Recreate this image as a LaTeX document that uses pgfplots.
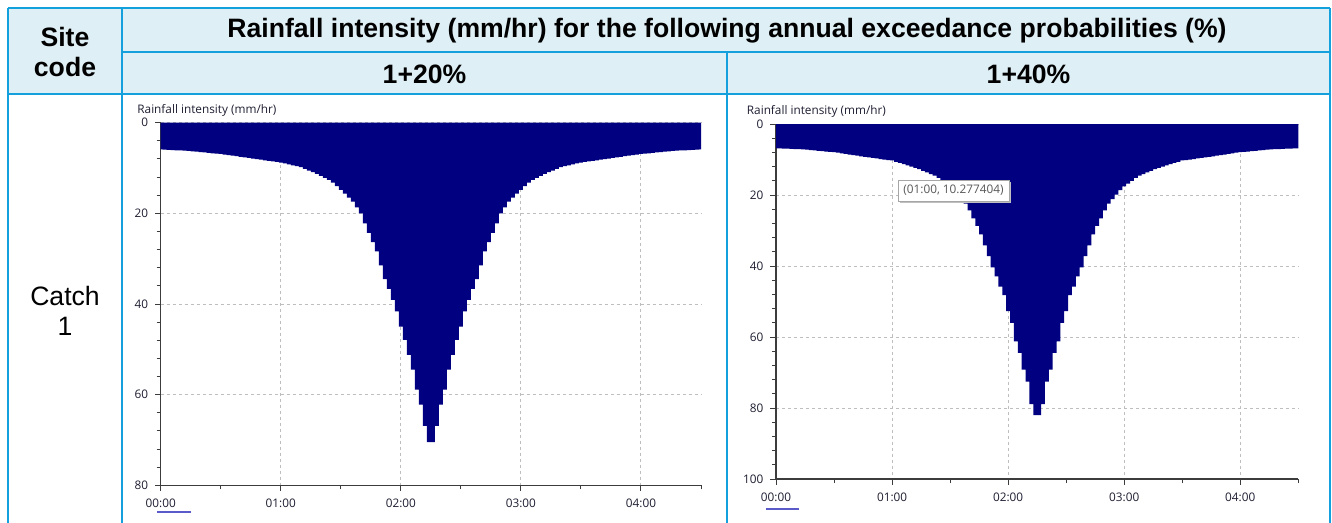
\documentclass[border=0pt]{standalone}
\usepackage{pgfplots}
\pgfplotsset{compat=1.18}
\usepackage{fontspec}
\setmainfont{Liberation Sans}
\newfontfamily\chartfont{Open Sans}
\definecolor{hdrfill}{RGB}{222,239,245}
\definecolor{tblline}{RGB}{20,160,220}
\definecolor{navyfill}{RGB}{0,0,128}
\definecolor{axisgray}{RGB}{60,60,60}
\definecolor{gridgray}{RGB}{190,190,190}
\definecolor{ticktext}{RGB}{30,30,50}
\definecolor{legblue}{RGB}{90,90,200}
\newcommand{\chartsize}{\chartfont\fontsize{5.9}{7}\selectfont}
\pgfplotsset{hyeto/.style={
  scale only axis, anchor=south west,
  axis x line*=bottom, axis y line*=left,
  axis line style={draw=axisgray, line width=0.6pt, -},
  y dir=reverse, xmin=0, xmax=270, ymin=0,
  xtick={0,60,120,180,240}, xticklabels={00:00,01:00,02:00,03:00,04:00},
  minor xtick={30,90,150,210,270},
  minor y tick num=4,
  tick align=outside, major tick length=2.8pt, minor tick length=2pt,
  every tick/.style={draw=axisgray, line width=0.5pt},
  xmajorgrids, ymajorgrids,
  major grid style={draw=gridgray, dash pattern=on 1.5pt off 1.5pt, line width=0.5pt},
  /pgf/number format/assume math mode=true,
  ticklabel style={font=\chartsize, text=ticktext},
  xticklabel style={yshift=-0.5pt},
}}
\begin{document}
\begin{tikzpicture}
\begin{scope}[x=0.5pt,y=-0.5pt]
\useasboundingbox (0,0) rectangle (1332,523);
% table header
\fill[hdrfill] (8,8) rectangle (1330,94);
\draw[tblline, line width=1.2pt] (8,8) -- (1330,8);
\draw[tblline, line width=1.2pt] (122,52) -- (1330,52);
\draw[tblline, line width=1.2pt] (8,94) -- (1330,94);
\draw[tblline, line width=1.2pt] (8,8) -- (8,523);
\draw[tblline, line width=1.2pt] (122,8) -- (122,523);
\draw[tblline, line width=1.2pt] (727,52) -- (727,523);
\draw[tblline, line width=1.2pt] (1330,8) -- (1330,523);
\begin{scope}[font=\fontsize{13.3}{15}\selectfont\bfseries]
\node at (65,37) {Site};
\node at (65,67) {code};
\node at (727,31) {Rainfall intensity (mm/hr) for the following annual exceedance probabilities (\%)};
\node at (424.5,74) {1+20\%};
\node at (1028.5,74) {1+40\%};
\end{scope}
\node[font=\fontsize{13.3}{15}\selectfont] at (65,296) {Catch};
\node[font=\fontsize{13.3}{15}\selectfont] at (65,326) {1};
\end{scope}

% left chart
\begin{axis}[hyeto, at={(80.35pt,-242.65pt)}, width=270.15pt, height=181.3pt, ymax=80, ytick={0,20,40,60,80}]
\addplot[fill=navyfill, draw=none, const plot mark left] table {
x y
0 5.90
1 5.95
3 5.99
5 6.04
7 6.08
9 6.13
11 6.18
13 6.24
15 6.32
17 6.40
19 6.49
21 6.57
23 6.65
25 6.74
27 6.82
29 6.90
31 7.03
33 7.15
35 7.28
37 7.40
39 7.53
41 7.65
43 7.78
45 7.90
47 8.03
49 8.16
51 8.29
53 8.41
55 8.54
57 8.67
59 8.80
61 9.00
63 9.20
65 9.40
67 9.60
69 9.80
71 10.18
73 10.55
75 10.93
77 11.30
79 11.73
81 12.16
83 12.59
85 13.20
87 14.00
89 14.80
91 15.64
93 16.52
95 17.40
97 18.70
99 20.00
101 22.20
103 24.32
105 26.36
107 28.40
109 31.47
111 34.50
113 36.65
115 39.10
117 41.60
119 45.00
121 47.93
123 51.25
125 54.50
127 58.90
129 62.20
131 66.87
133 70.50
137 66.87
139 62.20
141 58.90
143 54.50
145 51.25
147 47.93
149 45.00
151 41.60
153 39.10
155 36.65
157 34.50
159 31.47
161 28.40
163 26.36
165 24.32
167 22.20
169 20.00
171 18.70
173 17.40
175 16.52
177 15.64
179 14.80
181 14.00
183 13.20
185 12.59
187 12.16
189 11.73
191 11.30
193 10.93
195 10.55
197 10.18
199 9.80
201 9.60
203 9.40
205 9.20
207 9.00
209 8.80
211 8.67
213 8.54
215 8.41
217 8.29
219 8.16
221 8.03
223 7.90
225 7.78
227 7.65
229 7.53
231 7.40
233 7.28
235 7.15
237 7.03
239 6.90
241 6.82
243 6.74
245 6.65
247 6.57
249 6.49
251 6.40
253 6.32
255 6.24
257 6.18
259 6.13
261 6.08
263 6.04
265 5.99
267 5.95
269 5.90
270 5.90
} \closedcycle;
\end{axis}

% right chart
\begin{axis}[hyeto, at={(388pt,-239.5pt)}, width=261.15pt, height=177.5pt, ymax=100, ytick={0,20,40,60,80,100}]
\addplot[fill=navyfill, draw=none, const plot mark left] table {
x y
0 6.86
1 6.89
3 6.93
5 6.97
7 7.01
9 7.06
11 7.10
13 7.14
15 7.24
17 7.34
19 7.44
21 7.54
23 7.64
25 7.75
27 7.85
29 7.95
31 8.09
33 8.26
35 8.43
37 8.60
39 8.77
41 8.94
43 9.11
45 9.27
47 9.42
49 9.57
51 9.71
53 9.86
55 10.01
57 10.15
59 10.28
61 10.64
63 10.98
65 11.32
67 11.65
69 11.99
71 12.33
73 12.73
75 13.19
77 13.65
79 14.11
81 14.57
83 15.20
85 16.00
87 16.80
89 17.60
91 18.63
93 19.90
95 21.16
97 22.42
99 24.36
101 26.60
103 28.71
105 31.08
107 34.20
109 37.25
111 40.40
113 42.90
115 45.80
117 48.20
119 52.70
121 56.00
123 61.20
125 64.50
127 69.20
129 72.60
131 78.90
133 82.00
137 78.90
139 72.60
141 69.20
143 64.50
145 61.20
147 56.00
149 52.70
151 48.20
153 45.80
155 42.90
157 40.40
159 37.25
161 34.20
163 31.08
165 28.71
167 26.60
169 24.36
171 22.42
173 21.16
175 19.90
177 18.63
179 17.60
181 16.80
183 16.00
185 15.20
187 14.57
189 14.11
191 13.65
193 13.19
195 12.73
197 12.33
199 11.99
201 11.65
203 11.32
205 10.98
207 10.64
209 10.28
211 10.15
213 10.01
215 9.86
217 9.71
219 9.57
221 9.42
223 9.27
225 9.11
227 8.94
229 8.77
231 8.60
233 8.43
235 8.26
237 8.09
239 7.95
241 7.85
243 7.75
245 7.64
247 7.54
249 7.44
251 7.34
253 7.24
255 7.14
257 7.10
259 7.06
261 7.01
263 6.97
265 6.93
267 6.89
269 6.86
270 6.86
} \closedcycle;
\end{axis}

\begin{scope}[x=0.5pt,y=-0.5pt]
% axis titles
\node[font=\chartsize, text=ticktext, anchor=base west, inner sep=0pt] at (137,113.5) {Rainfall intensity (mm/hr)};
\node[font=\chartsize, text=ticktext, anchor=base west, inner sep=0pt] at (746.5,114.5) {Rainfall intensity (mm/hr)};
% legend lines
\draw[legblue, line width=0.8pt] (157,512) -- (191,512);
\draw[legblue, line width=0.8pt] (766,509) -- (799,509);
% tooltip
\fill[black!25] (900,182.5) rectangle (1011,203.5);
\draw[fill=white, draw=black!35, line width=0.4pt] (898,180) rectangle (1009,201);
\node[font=\chartsize, text=black!65, inner sep=0pt] at (953.5,190.5) {(01:00, 10.277404)};
\end{scope}
\end{tikzpicture}
\end{document}
